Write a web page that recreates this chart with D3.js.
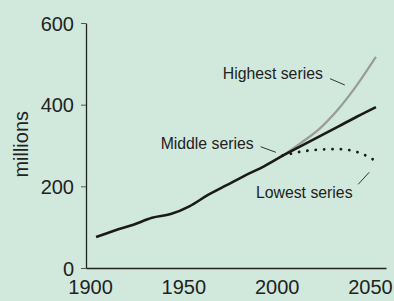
<!DOCTYPE html>
<html>
<head>
<meta charset="utf-8">
<script src="https://cdn.jsdelivr.net/npm/d3@7"></script>
<style>
  body { margin: 0; background: #d0e9dc; }
  svg { display: block; font-family: "Liberation Sans", Arial, sans-serif; }
  .tick text { fill: #222; font-size: 20px; }
</style>
</head>
<body>
<div id="body"></div>
<script>
// US population, millions
var histYears = [1900, 1910, 1920, 1930, 1940, 1950, 1960, 1970, 1980, 1990, 2000];
var histValues = [76, 92, 106, 123, 132, 151, 179, 203, 227, 249, 275];

var projYears = [2000, 2010, 2020, 2030, 2040, 2050];
var highValues = [275, 307, 342, 390, 449, 517];
var middleValues = [275, 299, 323, 347, 371, 394];
var lowValues = [275, 285, 290, 291, 284, 262];

var xTicks = [1900, 1950, 2000, 2050];
var yTicks = [0, 200, 400, 600];

// annotation labels: [text, year, value] and leader lines [y1, v1, y2, v2]
var labels = [
  ["Highest series", 1967.9, 463],
  ["Middle series", 1934.6, 290.7],
  ["Lowest series", 1985.7, 170.7]
];
var leaders = [
  [2025.4, 463.6, 2033.3, 448.2],
  [1988.2, 297.1, 1996.4, 283.3],
  [2040.5, 205, 2046.4, 234.4]
];

var width = 394, height = 301;

var svg = d3.select("#body")
  .append("svg")
  .attr("width", width)
  .attr("height", height);

var x = d3.scaleLinear().domain([1894.6, 2055.4]).range([86, 386]);
var y = d3.scaleLinear().domain([0, 600]).range([268, 23]);

var xAxis = svg.append("g")
  .attr("transform", "translate(0," + y(0) + ")")
  .call(d3.axisBottom(x).tickValues(xTicks).tickFormat(d3.format("d")).tickSize(0).tickSizeOuter(0).tickPadding(11));
xAxis.select(".domain").attr("stroke", "#222").attr("stroke-width", 1.3);
xAxis.selectAll(".tick text").attr("dx", -6).attr("dy", "0.75em");

var yAxis = svg.append("g")
  .attr("transform", "translate(" + x.range()[0] + ",0)")
  .call(d3.axisLeft(y).tickValues(yTicks).tickSize(5).tickSizeOuter(0).tickPadding(7));
yAxis.select(".domain").attr("stroke", "#222").attr("stroke-width", 1.3);
yAxis.selectAll(".tick line").attr("stroke", "#555");
yAxis.selectAll(".tick text").attr("dy", "0.36em");

svg.append("text")
  .attr("transform", "translate(28," + y(303) + ") rotate(-90)")
  .attr("text-anchor", "middle")
  .attr("font-size", 20)
  .attr("fill", "#222")
  .text("millions");

var line = d3.line()
  .x(function(d) { return x(d[0]); })
  .y(function(d) { return y(d[1]); })
  .curve(d3.curveMonotoneX);

function pairs(years, vals) {
  return years.map(function(yr, i) { return [yr, vals[i]]; });
}

svg.append("path")
  .datum(pairs(projYears, highValues))
  .attr("d", line)
  .attr("fill", "none")
  .attr("stroke", "#9a9a9a")
  .attr("stroke-width", 2.2);

svg.append("path")
  .datum(pairs(projYears, lowValues))
  .attr("d", line)
  .attr("fill", "none")
  .attr("stroke", "#1a1a1a")
  .attr("stroke-width", 2.8)
  .attr("stroke-linecap", "round")
  .attr("stroke-dasharray", "0.1,8.3");

svg.append("path")
  .datum(pairs(histYears, histValues))
  .attr("d", line)
  .attr("fill", "none")
  .attr("stroke", "#1a1a1a")
  .attr("stroke-width", 2.6);

svg.append("path")
  .datum(pairs(projYears, middleValues))
  .attr("d", line)
  .attr("fill", "none")
  .attr("stroke", "#1a1a1a")
  .attr("stroke-width", 2.6);

svg.selectAll(".lbl")
  .data(labels)
  .enter().append("text")
  .attr("class", "lbl")
  .attr("x", function(d) { return x(d[1]); })
  .attr("y", function(d) { return y(d[2]); })
  .attr("font-size", 15.8)
  .attr("fill", "#222")
  .text(function(d) { return d[0]; });

svg.selectAll(".leader")
  .data(leaders)
  .enter().append("line")
  .attr("class", "leader")
  .attr("x1", function(d) { return x(d[0]); })
  .attr("y1", function(d) { return y(d[1]); })
  .attr("x2", function(d) { return x(d[2]); })
  .attr("y2", function(d) { return y(d[3]); })
  .attr("stroke", "#333")
  .attr("stroke-width", 1);
</script>
</body>
</html>
